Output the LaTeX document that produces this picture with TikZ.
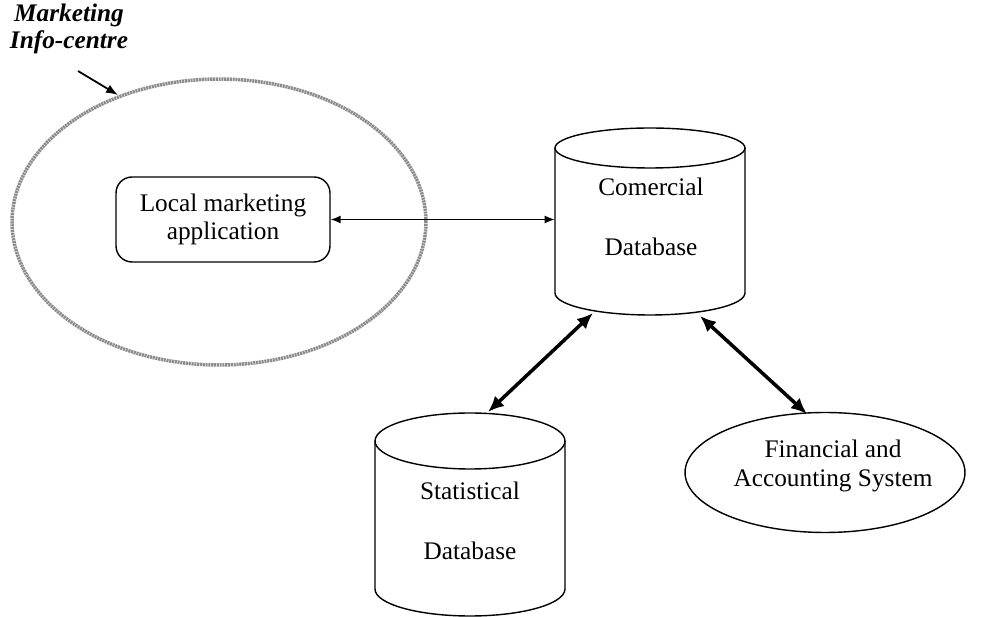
\documentclass[tikz,border=0pt]{standalone}
\usepackage{fontspec}
\setmainfont{Liberation Serif}
\usetikzlibrary{arrows.meta,shapes.geometric}
\begin{document}
\begin{tikzpicture}[x=0.02cm,y=-0.02cm,
  font=\fontsize{14.4}{16}\selectfont,
  outline/.style={line width=0.8pt},
  zone/.style={ellipse,draw=black!45,line width=2pt,dash pattern=on 1.2pt off 0.4pt,
    inner sep=0pt,minimum width=8.28cm,minimum height=5.72cm},
  appbox/.style={draw,outline,rounded corners=0.32cm,inner sep=0pt,
    minimum width=4.28cm,minimum height=1.7cm,align=center},
  sysnode/.style={ellipse,draw,outline,inner sep=0pt,minimum width=5.6cm,
    minimum height=2.4cm},
  cylbody/.style={inner sep=0pt,minimum width=3.8cm},
  cyltext/.style={align=center,inner sep=0pt},
  thinlink/.style={line width=0.8pt,{Latex[length=2mm,width=1.6mm]}-{Latex[length=2mm,width=1.6mm]}},
  thicklink/.style={line width=2pt,{Latex[length=3.2mm,width=2.8mm]}-{Latex[length=3.2mm,width=2.8mm]}},
  pointer/.style={line width=1pt,-{Latex[length=2.4mm,width=1.8mm]}}]
\useasboundingbox (0,0) rectangle (984,617);

% marketing info-centre region
\node[zone] (zone) at (219,222) {};
\node[font=\bfseries\itshape\fontsize{14.4}{15}\selectfont,align=center,inner sep=0pt]
  (zonelabel) at (69,29) {Marketing\\Info-centre};
\coordinate (zonetip) at (118,95);
\draw[pointer] (78,71) -- (zonetip);

% local application
\node[appbox] (lma) at (223,219.5) {Local marketing\\application};

% commercial database cylinder
\draw[outline] (650,148) ellipse [x radius=1.9cm, y radius=0.4cm];
\draw[outline] (555,148) -- (555,293)
  arc[start angle=180,end angle=360,x radius=1.9cm,y radius=0.44cm] -- (745,148);
\node[cylbody,minimum height=3.74cm] (com) at (650,221.5) {};
\node[cyltext] (comtext) at (651,217) {Comercial\\[18pt]Database};
\coordinate (comSW) at (593,313);
\coordinate (comSE) at (700,316);

% statistical database cylinder
\draw[outline] (470,441) ellipse [x radius=1.9cm, y radius=0.56cm];
\draw[outline] (375,441) -- (375,589)
  arc[start angle=180,end angle=360,x radius=1.9cm,y radius=0.54cm] -- (565,441);
\node[cylbody,minimum height=4.08cm] (stat) at (470,515) {};
\node[cyltext] (stattext) at (470,521) {Statistical\\[18pt]Database};
\coordinate (statN) at (488,412);

% financial system
\node[sysnode] (fin) at (825,472.5) {};
\node[cyltext] (fintext) at (833,466) {Financial and\\Accounting System};
\coordinate (finN) at (807,414);

% connections
\draw[thinlink] (lma.east) -- (lma.east -| com.west);
\draw[thicklink] (comSW) -- (statN);
\draw[thicklink] (comSE) -- (finN);
\end{tikzpicture}
\end{document}
